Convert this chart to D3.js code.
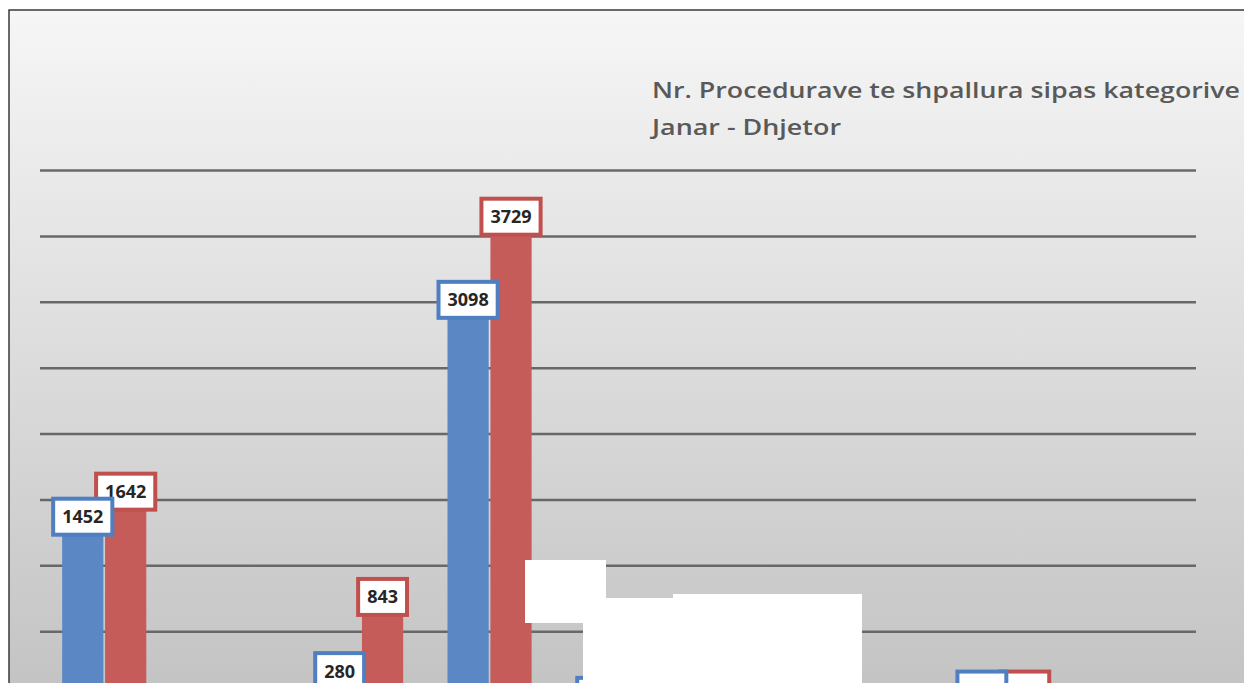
<!DOCTYPE html>
<html>
<head>
<meta charset="utf-8">
<script src="https://cdn.jsdelivr.net/npm/d3@7"></script>
<style>
  body { margin: 0; background: #fff; }
  svg { display: block; }
</style>
</head>
<body>
<div class="chart"></div>
<script>
// values (categories are cut off below the frame)
var categories = ["K1", "K2", "K3", "K4", "K5", "K6", "K7", "K8", "K9"];
var seriesNames = ["Seria 1", "Seria 2"];
var values1 = [1452, 20, 280, 3098, 92, 15, 10, 140, 20];
var values2 = [1642, 25, 843, 3729, 30, 20, 15, 140, 25];
var yTicks = [500, 1000, 1500, 2000, 2500, 3000, 3500, 4000];
var title1 = "Nr. Procedurave te shpallura sipas kategorive";
var title2 = "Janar - Dhjetor";

var colors = ["#5b87c5", "#c65c59"];
var borders = ["#4f7fc1", "#c0504d"];

var W = 1244, H = 683;
var margin = {left: 40, right: 48, top: 170, base: 697};

var data = categories.map(function(c, i) {
  return {cat: c, vals: [values1[i], values2[i]]};
});

var svg = d3.select(".chart").append("svg")
    .attr("width", W)
    .attr("height", H);

// background gradient
var defs = svg.append("defs");
var grad = defs.append("linearGradient")
    .attr("id", "bg")
    .attr("x1", 0).attr("y1", 0).attr("x2", 0).attr("y2", 1);
grad.append("stop").attr("offset", "0%").attr("stop-color", "#f6f6f6");
grad.append("stop").attr("offset", "100%").attr("stop-color", "#c4c4c4");

svg.append("rect")
    .attr("x", 9).attr("y", 10)
    .attr("width", W - 9).attr("height", H - 10)
    .attr("fill", "url(#bg)");

// frame (only top and left are in view)
svg.append("path")
    .attr("d", "M9," + H + "V10H" + W)
    .attr("fill", "none")
    .attr("stroke", "#3a3a3a")
    .attr("stroke-width", 1.5);

var y = d3.scaleLinear()
    .domain([0, 4000])
    .range([margin.base, margin.top]);

var x0 = d3.scaleBand()
    .domain(categories)
    .range([margin.left, W - margin.right])
    .paddingInner(0.345)
    .paddingOuter(0.1725);

var x1 = d3.scaleBand()
    .domain([0, 1])
    .range([0, x0.bandwidth()])
    .paddingInner(0.04);

// gridlines
var grid = svg.append("g")
    .attr("transform", "translate(" + margin.left + ",0)")
    .call(d3.axisLeft(y).tickValues(yTicks).tickSize(-(W - margin.right - margin.left)).tickFormat(""));
grid.select(".domain").remove();
grid.selectAll(".tick line")
    .attr("stroke", "#686868")
    .attr("stroke-width", 2.5);

// bars
var groups = svg.append("g").selectAll("g")
    .data(data)
    .enter().append("g")
    .attr("transform", function(d) { return "translate(" + x0(d.cat) + ",0)"; });

groups.selectAll("rect")
    .data(function(d) { return d.vals.map(function(v, i) { return {v: v, s: i}; }); })
    .enter().append("rect")
    .attr("x", function(d) { return x1(d.s); })
    .attr("y", function(d) { return y(d.v); })
    .attr("width", x1.bandwidth())
    .attr("height", function(d) { return y(0) - y(d.v); })
    .attr("fill", function(d) { return colors[d.s]; });

// data labels, red first so blue sits on top; skip the ones fully below the frame
[1, 0].forEach(function(s) {
  var lab = svg.append("g").selectAll("g")
      .data(data.filter(function(d) { return y(d.vals[s]) - 9 < H; }))
      .enter().append("g")
      .attr("transform", function(d) {
        return "translate(" + (x0(d.cat) + x1(s) + x1.bandwidth() / 2) + "," + (y(d.vals[s]) + 11) + ")";
      });
  lab.append("rect");
  var txt = lab.append("text")
      .attr("text-anchor", "middle")
      .attr("dy", "0.36em")
      .style("font-family", "'Open Sans', sans-serif")
      .style("font-weight", "bold")
      .style("font-size", "18px")
      .attr("fill", "#262626")
      .text(function(d) { return d.vals[s]; });
  txt.each(function() {
    var w = this.getComputedTextLength() + 18;
    d3.select(this.parentNode).select("rect")
      .attr("x", -w / 2).attr("y", -18)
      .attr("width", w).attr("height", 36)
      .attr("fill", "#fff")
      .attr("stroke", borders[s])
      .attr("stroke-width", 4);
  });
});

// title (stretched like the source)
svg.append("text")
    .attr("x", 652).attr("y", 98)
    .attr("textLength", 588)
    .attr("lengthAdjust", "spacingAndGlyphs")
    .style("font-family", "'Open Sans', sans-serif")
    .style("font-weight", 600)
    .style("font-size", "22px")
    .attr("fill", "#595959")
    .text(title1);
svg.append("text")
    .attr("x", 652).attr("y", 135)
    .attr("textLength", 189)
    .attr("lengthAdjust", "spacingAndGlyphs")
    .style("font-family", "'Open Sans', sans-serif")
    .style("font-weight", 600)
    .style("font-size", "22px")
    .attr("fill", "#595959")
    .text(title2);

// white patches covering part of the original
var patches = svg.append("g").attr("fill", "#fff");
patches.append("rect").attr("x", 525).attr("y", 560).attr("width", 81).attr("height", 63);
patches.append("rect").attr("x", 583).attr("y", 598).attr("width", 90).attr("height", 85);
patches.append("rect").attr("x", 673).attr("y", 594).attr("width", 189).attr("height", 89);
</script>
</body>
</html>
